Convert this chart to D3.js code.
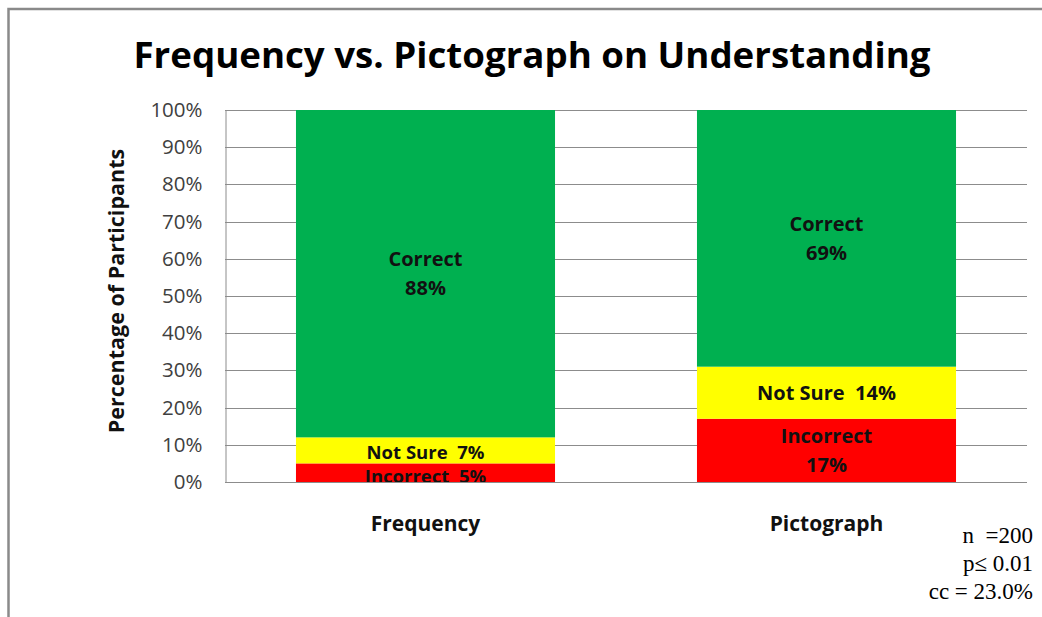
<!DOCTYPE html>
<html>
<head>
<meta charset="utf-8">
<script src="https://cdn.jsdelivr.net/npm/d3@7"></script>
<style>
  body { margin: 0; background: #fff; }
  svg { display: block; }
  text { white-space: pre; }
</style>
</head>
<body>
<div id="chart"></div>
<script>
// data
var categories = ["Frequency", "Pictograph"];
var seriesNames = ["Incorrect", "Not Sure", "Correct"];
var incorrect = [5, 17];
var notSure = [7, 14];
var correct = [88, 69];
var seriesColors = ["#ff0000", "#ffff00", "#00b050"];
// labels inside each segment (lines), per series then per category
var segLabels = [
    [["Incorrect  5%"], ["Incorrect", "17%"]],
    [["Not Sure  7%"], ["Not Sure  14%"]],
    [["Correct", "88%"], ["Correct", "69%"]]
];
var yTicks = [0, 10, 20, 30, 40, 50, 60, 70, 80, 90, 100];
var notes = ["n  =200", "p\u2264 0.01", "cc = 23.0%"];
var titleText = "Frequency vs. Pictograph on Understanding";
var yTitle = "Percentage of Participants";

var width = 1042, height = 617;
var plot = { left: 225, right: 1027, top: 110, bottom: 482 };
var sans = "'Open Sans', Lato, sans-serif";

var svg = d3.select("#chart").append("svg")
    .attr("width", width)
    .attr("height", height);

// outer frame (runs off the right and bottom)
svg.append("rect")
    .attr("x", 8.5).attr("y", 9)
    .attr("width", width + 20).attr("height", height + 20)
    .attr("fill", "none")
    .attr("stroke", "#8a8a8a")
    .attr("stroke-width", 2.5);

var x = d3.scaleBand()
    .domain(categories)
    .range([plot.left, plot.right])
    .paddingInner(0.354)
    .paddingOuter(0.177);

var y = d3.scaleLinear()
    .domain([0, 100])
    .range([plot.bottom, plot.top]);

// stack
var rows = categories.map(function (c, i) {
    return { cat: c, "Incorrect": incorrect[i], "Not Sure": notSure[i], "Correct": correct[i] };
});
var stacked = d3.stack().keys(seriesNames)(rows);

// gridlines
svg.append("g")
    .selectAll("line").data(yTicks)
    .enter().append("line")
    .attr("x1", plot.left).attr("x2", plot.right)
    .attr("y1", function (d) { return Math.round(y(d)) + 0.5; })
    .attr("y2", function (d) { return Math.round(y(d)) + 0.5; })
    .attr("stroke", "#8c8c8c")
    .attr("stroke-width", 1);

// y axis
var yAxis = d3.axisLeft(y)
    .tickValues(yTicks)
    .tickSize(0)
    .tickPadding(23)
    .tickFormat(function (d) { return d + "%"; });
var gy = svg.append("g")
    .attr("transform", "translate(" + (plot.left + 0.5) + ",0)")
    .call(yAxis);
gy.select(".domain").attr("stroke", "#8c8c8c");
gy.selectAll("text")
    .attr("font-family", sans)
    .attr("font-size", 20.5)
    .attr("fill", "#404040");

// bars
var clip = svg.append("clipPath").attr("id", "plotclip")
    .append("rect")
    .attr("x", plot.left).attr("y", plot.top)
    .attr("width", plot.right - plot.left)
    .attr("height", plot.bottom - plot.top);

var layers = svg.selectAll(".layer").data(stacked)
    .enter().append("g")
    .attr("class", "layer")
    .attr("fill", function (d, i) { return seriesColors[i]; });

layers.selectAll("rect").data(function (d) { return d; })
    .enter().append("rect")
    .attr("x", function (d) { return x(d.data.cat); })
    .attr("width", x.bandwidth())
    .attr("y", function (d) { return y(d[1]); })
    .attr("height", function (d) { return y(d[0]) - y(d[1]); });

// segment labels
var lineH = 29;
var labelG = svg.append("g").attr("clip-path", "url(#plotclip)");
stacked.forEach(function (layer, si) {
    layer.forEach(function (d, ci) {
        var lines = segLabels[si][ci];
        var cx = x(d.data.cat) + x.bandwidth() / 2;
        var cy = (y(d[0]) + y(d[1])) / 2;
        // the thin Frequency segments: labels pushed apart a little, bottom one cut by the axis
        var thin = ci == 0 && si < 2;
        var off = (si == 0 && ci == 0) ? 4 : (si == 1 && ci == 0 ? 2 : 0);
        var t = labelG.append("text")
            .attr("x", cx)
            .attr("text-anchor", "middle")
            .attr("font-family", sans)
            .attr("font-weight", "bold")
            .attr("font-size", thin ? 18.5 : 20)
            .attr("fill", "#111");
        lines.forEach(function (ln, li) {
            t.append("tspan")
                .attr("x", cx)
                .attr("y", cy + off + (li - (lines.length - 1) / 2) * lineH)
                .attr("dy", "0.35em")
                .text(ln);
        });
    });
});

// x category labels
svg.append("g").selectAll("text").data(categories)
    .enter().append("text")
    .attr("x", function (d) { return x(d) + x.bandwidth() / 2; })
    .attr("y", 531)
    .attr("text-anchor", "middle")
    .attr("font-family", sans)
    .attr("font-weight", "bold")
    .attr("font-size", 21)
    .attr("fill", "#111")
    .text(function (d) { return d; });

// title
svg.append("text")
    .attr("x", 532)
    .attr("y", 68)
    .attr("text-anchor", "middle")
    .attr("font-family", sans)
    .attr("font-weight", "bold")
    .attr("font-size", 35)
    .attr("textLength", 797)
    .attr("lengthAdjust", "spacingAndGlyphs")
    .attr("fill", "#000")
    .text(titleText);

// y title
svg.append("text")
    .attr("transform", "translate(124,291) rotate(-90)")
    .attr("text-anchor", "middle")
    .attr("font-family", sans)
    .attr("font-weight", "bold")
    .attr("font-size", 21.5)
    .attr("fill", "#111")
    .text(yTitle);

// notes
svg.append("g").selectAll("text").data(notes)
    .enter().append("text")
    .attr("x", 1033)
    .attr("y", function (d, i) { return 543 + i * 28; })
    .attr("text-anchor", "end")
    .attr("font-family", "'Liberation Serif', 'Times New Roman', serif")
    .attr("font-size", 23)
    .attr("fill", "#000")
    .text(function (d) { return d; });
</script>
</body>
</html>
